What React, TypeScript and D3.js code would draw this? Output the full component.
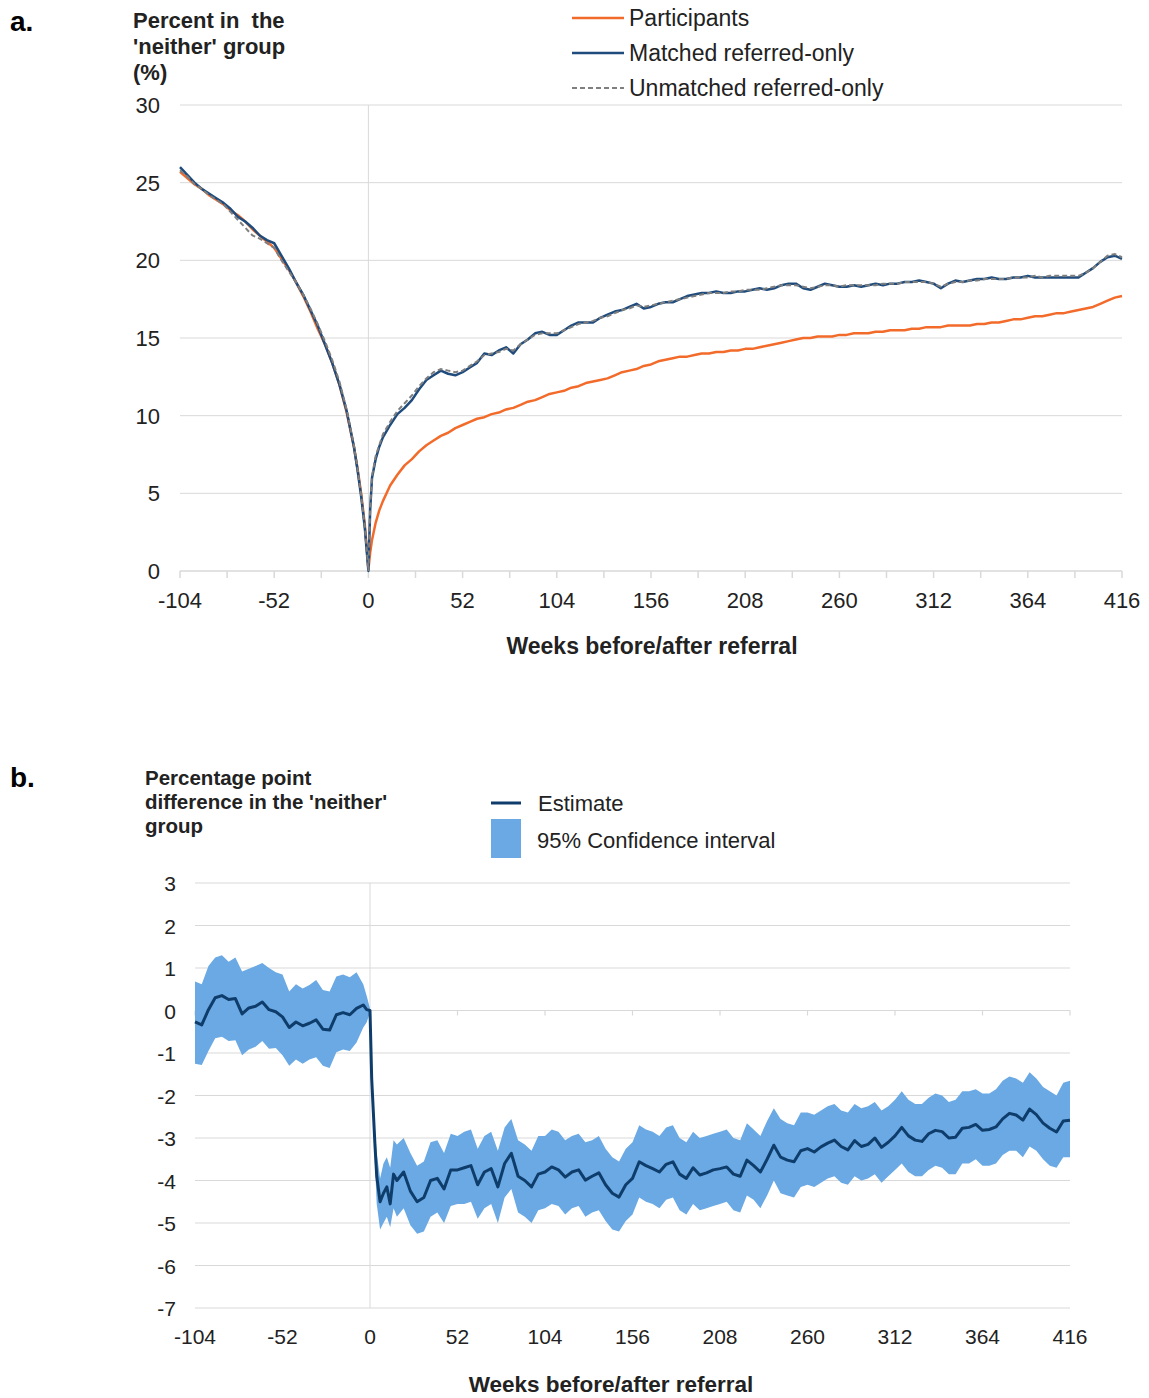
import React, { useEffect } from "react";
import * as d3 from "d3";

// panel a: percent in the 'neither' group, weeks before/after referral
const weeksA = [
  -104, -100, -96, -92, -88, -84, -80, -76, -72, -68,
  -64, -60, -56, -52, -48, -44, -40, -36, -32, -28,
  -24, -20, -16, -12, -8, -6, -4, -2, -1, 0,
  1, 2, 4, 6, 8, 12, 16, 20, 24, 28,
  32, 36, 40, 44, 48, 52, 56, 60, 64, 68,
  72, 76, 80, 84, 88, 92, 96, 100, 104, 108,
  112, 116, 120, 124, 128, 132, 136, 140, 144, 148,
  152, 156, 160, 164, 168, 172, 176, 180, 184, 188,
  192, 196, 200, 204, 208, 212, 216, 220, 224, 228,
  232, 236, 240, 244, 248, 252, 256, 260, 264, 268,
  272, 276, 280, 284, 288, 292, 296, 300, 304, 308,
  312, 316, 320, 324, 328, 332, 336, 340, 344, 348,
  352, 356, 360, 364, 368, 372, 376, 380, 384, 388,
  392, 396, 400, 404, 408, 412, 416,
];

const participants = [
  25.7, 25.3, 24.9, 24.6, 24.2, 23.9, 23.6, 23.2, 22.9, 22.5,
  22.0, 21.6, 21.2, 20.8, 20.1, 19.4, 18.6, 17.7, 16.7, 15.6,
  14.6, 13.4, 12.0, 10.2, 8.0, 6.6, 5.0, 3.0, 1.6, 0.1,
  1.2, 2.0, 3.1, 3.9, 4.5, 5.5, 6.2, 6.8, 7.2, 7.7,
  8.1, 8.4, 8.7, 8.9, 9.2, 9.4, 9.6, 9.8, 9.9, 10.1,
  10.2, 10.4, 10.5, 10.7, 10.9, 11.0, 11.2, 11.4, 11.5, 11.6,
  11.8, 11.9, 12.1, 12.2, 12.3, 12.4, 12.6, 12.8, 12.9, 13.0,
  13.2, 13.3, 13.5, 13.6, 13.7, 13.8, 13.8, 13.9, 14.0, 14.0,
  14.1, 14.1, 14.2, 14.2, 14.3, 14.3, 14.4, 14.5, 14.6, 14.7,
  14.8, 14.9, 15.0, 15.0, 15.1, 15.1, 15.1, 15.2, 15.2, 15.3,
  15.3, 15.3, 15.4, 15.4, 15.5, 15.5, 15.5, 15.6, 15.6, 15.7,
  15.7, 15.7, 15.8, 15.8, 15.8, 15.8, 15.9, 15.9, 16.0, 16.0,
  16.1, 16.2, 16.2, 16.3, 16.4, 16.4, 16.5, 16.6, 16.6, 16.7,
  16.8, 16.9, 17.0, 17.2, 17.4, 17.6, 17.7,
];

const matchedReferred = [
  26.0, 25.5, 25.0, 24.6, 24.3, 24.0, 23.7, 23.3, 22.8, 22.5,
  22.1, 21.6, 21.3, 21.1, 20.3, 19.5, 18.6, 17.8, 16.8, 15.8,
  14.6, 13.4, 12.0, 10.3, 8.0, 6.5, 4.8, 2.8, 1.4, 0.0,
  4.0, 6.0, 7.2, 8.0, 8.6, 9.4, 10.1, 10.5, 11.0, 11.7,
  12.3, 12.6, 12.9, 12.7, 12.6, 12.8, 13.1, 13.4, 14.0, 13.9,
  14.2, 14.4, 14.0, 14.6, 14.9, 15.3, 15.4, 15.2, 15.2, 15.5,
  15.8, 16.0, 16.0, 16.0, 16.3, 16.5, 16.7, 16.8, 17.0, 17.2,
  16.9, 17.0, 17.2, 17.3, 17.3, 17.5, 17.7, 17.8, 17.9, 17.9,
  18.0, 17.9, 17.9, 18.0, 18.0, 18.1, 18.2, 18.1, 18.2, 18.4,
  18.5, 18.5, 18.2, 18.1, 18.3, 18.5, 18.4, 18.3, 18.3, 18.4,
  18.3, 18.4, 18.5, 18.4, 18.5, 18.5, 18.6, 18.6, 18.7, 18.6,
  18.5, 18.2, 18.5, 18.7, 18.6, 18.7, 18.8, 18.8, 18.9, 18.8,
  18.8, 18.9, 18.9, 19.0, 18.9, 18.9, 18.9, 18.9, 18.9, 18.9,
  18.9, 19.2, 19.5, 19.9, 20.2, 20.3, 20.1,
];

const unmatchedReferred = [
  25.8, 25.4, 24.9, 24.6, 24.2, 23.9, 23.6, 23.1, 22.6, 22.1,
  21.6, 21.4, 21.1, 20.8, 20.0, 19.3, 18.6, 17.8, 16.9, 15.9,
  14.8, 13.6, 12.2, 10.4, 8.1, 6.6, 4.9, 2.9, 1.5, 0.0,
  4.1, 6.1, 7.4, 8.1, 8.8, 9.6, 10.3, 10.8, 11.3, 11.9,
  12.4, 12.8, 13.0, 12.9, 12.8, 12.9, 13.2, 13.5, 13.9, 14.0,
  14.1, 14.3, 14.2, 14.6, 14.9, 15.2, 15.3, 15.3, 15.3, 15.5,
  15.7, 15.9, 16.0, 16.1, 16.3, 16.4, 16.6, 16.8, 16.9, 17.1,
  17.0, 17.1, 17.2, 17.3, 17.4, 17.5, 17.6, 17.7, 17.8, 17.9,
  17.9, 17.9, 18.0, 18.0, 18.1, 18.1, 18.1, 18.2, 18.3, 18.4,
  18.4, 18.4, 18.3, 18.2, 18.3, 18.4, 18.4, 18.3, 18.4, 18.4,
  18.4, 18.4, 18.4, 18.5, 18.5, 18.5, 18.6, 18.6, 18.6, 18.6,
  18.5, 18.3, 18.5, 18.6, 18.6, 18.7, 18.7, 18.8, 18.8, 18.8,
  18.8, 18.9, 18.9, 18.9, 19.0, 18.9, 19.0, 19.0, 19.0, 19.0,
  19.0, 19.2, 19.5, 19.9, 20.3, 20.4, 20.2,
];

// panel b: percentage point difference, estimate and 95% CI
const weeksB = [
  -104, -100, -96, -92, -88, -84, -80, -76, -72, -68,
  -64, -60, -56, -52, -48, -44, -40, -36, -32, -28,
  -24, -20, -16, -12, -8, -4, -2, 0, 1, 2,
  3, 4, 6, 8, 10, 12, 14, 16, 20, 24,
  28, 32, 36, 40, 44, 48, 52, 56, 60, 64,
  68, 72, 76, 80, 84, 88, 92, 96, 100, 104,
  108, 112, 116, 120, 124, 128, 132, 136, 140, 144,
  148, 152, 156, 160, 164, 168, 172, 176, 180, 184,
  188, 192, 196, 200, 204, 208, 212, 216, 220, 224,
  228, 232, 236, 240, 244, 248, 252, 256, 260, 264,
  268, 272, 276, 280, 284, 288, 292, 296, 300, 304,
  308, 312, 316, 320, 324, 328, 332, 336, 340, 344,
  348, 352, 356, 360, 364, 368, 372, 376, 380, 384,
  388, 392, 396, 400, 404, 408, 412, 416,
];

const estimate = [
  -0.27, -0.34, 0.02, 0.30, 0.35, 0.26, 0.28, -0.08, 0.06, 0.10,
  0.20, 0.02, -0.03, -0.15, -0.40, -0.27, -0.36, -0.30, -0.22, -0.44,
  -0.46, -0.10, -0.05, -0.10, 0.05, 0.13, 0.02, 0.0, -1.6, -2.4,
  -3.2, -3.9, -4.5, -4.3, -4.15, -4.55, -3.85, -4.0, -3.8, -4.25,
  -4.5, -4.4, -4.0, -3.95, -4.2, -3.75, -3.75, -3.7, -3.65, -4.1,
  -3.8, -3.72, -4.15, -3.6, -3.36, -3.9, -4.0, -4.15, -3.85, -3.8,
  -3.68, -3.75, -3.92, -3.8, -3.75, -3.99, -3.9, -3.82, -4.1, -4.3,
  -4.39, -4.1, -3.95, -3.56, -3.65, -3.72, -3.8, -3.62, -3.56, -3.85,
  -3.95, -3.7, -3.87, -3.82, -3.75, -3.72, -3.68, -3.85, -3.9, -3.52,
  -3.65, -3.8, -3.5, -3.17, -3.45, -3.52, -3.56, -3.3, -3.25, -3.33,
  -3.21, -3.12, -3.05, -3.2, -3.28, -3.06, -3.2, -3.15, -3.0, -3.22,
  -3.1, -2.95, -2.75, -2.95, -3.05, -3.08, -2.9, -2.82, -2.85, -3.0,
  -2.98, -2.77, -2.75, -2.68, -2.82, -2.8, -2.74, -2.55, -2.42, -2.46,
  -2.58, -2.32, -2.45, -2.65, -2.77, -2.86, -2.6, -2.58,
];

const ciUpper = [
  0.68, 0.62, 1.05, 1.25, 1.30, 1.15, 1.25, 0.92, 0.98, 1.05,
  1.12, 1.00, 0.90, 0.85, 0.45, 0.62, 0.52, 0.60, 0.72, 0.48,
  0.45, 0.80, 0.85, 0.78, 0.90, 0.62, 0.35, 0.05, -1.35, -2.05,
  -2.8, -3.35, -3.95, -3.6, -3.45, -3.70, -3.05, -3.15, -3.0, -3.35,
  -3.65, -3.55, -3.10, -3.05, -3.35, -2.90, -2.95, -2.85, -2.80, -3.25,
  -2.95, -2.85, -3.30, -2.75, -2.55, -3.05, -3.15, -3.30, -2.95, -2.95,
  -2.80, -2.85, -3.05, -2.95, -2.90, -3.10, -3.05, -2.95, -3.25, -3.45,
  -3.55, -3.25, -3.10, -2.70, -2.80, -2.85, -2.95, -2.75, -2.70, -3.00,
  -3.10, -2.85, -3.00, -2.95, -2.90, -2.85, -2.80, -3.00, -3.05, -2.65,
  -2.80, -2.95, -2.60, -2.30, -2.55, -2.65, -2.70, -2.40, -2.40, -2.45,
  -2.35, -2.25, -2.20, -2.35, -2.40, -2.20, -2.30, -2.25, -2.15, -2.35,
  -2.25, -2.10, -1.90, -2.10, -2.20, -2.20, -2.05, -1.95, -2.00, -2.15,
  -2.10, -1.90, -1.90, -1.85, -1.95, -1.95, -1.85, -1.65, -1.55, -1.60,
  -1.70, -1.45, -1.60, -1.80, -1.90, -2.00, -1.70, -1.65,
];

const ciLower = [
  -1.25, -1.28, -0.95, -0.65, -0.62, -0.72, -0.70, -1.05, -0.92, -0.85,
  -0.72, -0.90, -0.88, -1.05, -1.30, -1.15, -1.25, -1.15, -1.10, -1.30,
  -1.35, -0.98, -0.92, -0.95, -0.75, -0.40, -0.28, -0.05, -1.85, -2.80,
  -3.65, -4.55, -5.15, -5.0, -4.85, -5.10, -4.65, -4.85, -4.65, -5.05,
  -5.25, -5.20, -4.85, -4.75, -5.00, -4.60, -4.55, -4.55, -4.50, -4.90,
  -4.65, -4.55, -5.00, -4.40, -4.20, -4.75, -4.85, -5.00, -4.70, -4.65,
  -4.55, -4.60, -4.80, -4.65, -4.60, -4.85, -4.75, -4.70, -4.95, -5.15,
  -5.20, -4.95, -4.80, -4.40, -4.50, -4.55, -4.65, -4.45, -4.40, -4.70,
  -4.80, -4.55, -4.70, -4.65, -4.60, -4.55, -4.50, -4.70, -4.75, -4.35,
  -4.45, -4.65, -4.35, -4.00, -4.30, -4.35, -4.40, -4.15, -4.10, -4.15,
  -4.05, -3.95, -3.90, -4.05, -4.10, -3.90, -4.00, -3.95, -3.85, -4.05,
  -3.90, -3.75, -3.60, -3.80, -3.90, -3.90, -3.75, -3.65, -3.70, -3.85,
  -3.85, -3.60, -3.60, -3.50, -3.65, -3.65, -3.60, -3.40, -3.30, -3.30,
  -3.45, -3.20, -3.30, -3.50, -3.65, -3.70, -3.45, -3.45,
];

const xTickLabels = [-104, -52, 0, 52, 104, 156, 208, 260, 312, 364, 416];
const yTicksA = [0, 5, 10, 15, 20, 25, 30];
const yTicksB = [3, 2, 1, 0, -1, -2, -3, -4, -5, -6, -7];

const FONT = "'Liberation Sans', Arial, Helvetica, sans-serif";
const GRID = "#d9d9d9";
const ORANGE = "#f26b2b";
const NAVY = "#1f4c7c";
const BAND = "#6aa9e3";
const EST = "#0e3d6c";

const PanelA = () => {
  const x = d3.scaleLinear().domain([-104, 416]).range([180, 1122]);
  const y = d3.scaleLinear().domain([0, 30]).range([571, 105]);

  const line = (vals: number[]) =>
    d3
      .line<number>()
      .x((_, i) => x(weeksA[i]))
      .y((d) => y(d))(vals) as string;

  const minorTicks = d3.range(-104, 417, 26);

  const legend = [
    { label: "Participants", color: ORANGE, dash: null, width: 2.5 },
    { label: "Matched referred-only", color: NAVY, dash: null, width: 2.5 },
    { label: "Unmatched referred-only", color: "#7f7f7f", dash: "5,3", width: 2 },
  ];

  return (
    <g fontFamily={FONT}>
      <text x={10} y={31} fontSize={28} fontWeight="bold">a.</text>
      <text fontSize={22} fontWeight="bold" fill="#222" style={{ whiteSpace: "pre" }}>
        <tspan x={133} y={28}>{"Percent in  the"}</tspan>
        <tspan x={133} y={54}>'neither' group</tspan>
        <tspan x={133} y={80}>(%)</tspan>
      </text>

      {/* gridlines */}
      {yTicksA.filter((t) => t > 0).map((t) => (
        <line key={t} x1={180} x2={1122} y1={y(t)} y2={y(t)} stroke={GRID} strokeWidth={1} />
      ))}
      <line x1={x(0)} x2={x(0)} y1={y(30)} y2={y(0)} stroke={GRID} strokeWidth={1} />
      <line x1={180} x2={1122} y1={y(0)} y2={y(0)} stroke={GRID} strokeWidth={1.5} />
      {minorTicks.map((t) => (
        <line key={t} x1={x(t)} x2={x(t)} y1={y(0)} y2={y(0) + 7} stroke={GRID} strokeWidth={1.5} />
      ))}

      {yTicksA.map((t) => (
        <text key={t} x={160} y={y(t) + 8} fontSize={22} textAnchor="end" fill="#222">{t}</text>
      ))}
      {xTickLabels.map((t) => (
        <text key={t} x={x(t)} y={608} fontSize={22} textAnchor="middle" fill="#222">{t}</text>
      ))}
      <text x={652} y={654} fontSize={23} fontWeight="bold" textAnchor="middle" fill="#222">
        Weeks before/after referral
      </text>

      {/* series */}
      <path d={line(participants)} fill="none" stroke={ORANGE} strokeWidth={2.5} strokeLinejoin="round" />
      <path d={line(matchedReferred)} fill="none" stroke={NAVY} strokeWidth={2.5} strokeLinejoin="round" />
      <path d={line(unmatchedReferred)} fill="none" stroke="#7f7f7f" strokeWidth={2} strokeDasharray="5,3" />

      {/* legend */}
      {legend.map((d, i) => (
        <g key={d.label} transform={`translate(0, ${18 + i * 35})`}>
          <line x1={572} x2={624} y1={0} y2={0} stroke={d.color} strokeWidth={d.width} strokeDasharray={d.dash ?? undefined} />
          <text x={629} y={8} fontSize={23} fill="#222">{d.label}</text>
        </g>
      ))}
    </g>
  );
};

const PanelB = () => {
  const x = d3.scaleLinear().domain([-104, 416]).range([195, 1070]);
  const y = d3.scaleLinear().domain([-7, 3]).range([1308, 883]);

  const area = d3
    .area<number>()
    .x((_, i) => x(weeksB[i]))
    .y0((_, i) => y(ciLower[i]))
    .y1((d) => y(d));

  const line = d3
    .line<number>()
    .x((_, i) => x(weeksB[i]))
    .y((d) => y(d));

  const majorTicks = d3.range(-104, 417, 52);

  return (
    <g fontFamily={FONT}>
      <text x={10} y={787} fontSize={28} fontWeight="bold">b.</text>
      <text fontSize={20.5} fontWeight="bold" fill="#222">
        <tspan x={145} y={785}>Percentage point</tspan>
        <tspan x={145} y={809}>difference in the 'neither'</tspan>
        <tspan x={145} y={833}>group</tspan>
      </text>

      {/* legend */}
      <line x1={491} x2={521} y1={803} y2={803} stroke={EST} strokeWidth={3} />
      <text x={538} y={811} fontSize={22} fill="#222">Estimate</text>
      <rect x={491} y={819} width={30} height={39} fill={BAND} />
      <text x={537} y={848} fontSize={22} fill="#222">95% Confidence interval</text>

      {/* gridlines */}
      {yTicksB.map((t) => (
        <line key={t} x1={195} x2={1070} y1={y(t)} y2={y(t)} stroke={GRID} strokeWidth={1.2} />
      ))}
      <line x1={x(0)} x2={x(0)} y1={y(3)} y2={y(-7)} stroke={GRID} strokeWidth={1} />
      {majorTicks.map((t) => (
        <line key={t} x1={x(t)} x2={x(t)} y1={y(0)} y2={y(0) + 5} stroke={GRID} strokeWidth={1.2} />
      ))}

      {yTicksB.map((t) => (
        <text key={t} x={176} y={y(t) + 8} fontSize={21} textAnchor="end" fill="#222">{t}</text>
      ))}
      {xTickLabels.map((t) => (
        <text key={t} x={x(t)} y={1344} fontSize={21} textAnchor="middle" fill="#222">{t}</text>
      ))}
      <text x={611} y={1392} fontSize={22.5} fontWeight="bold" textAnchor="middle" fill="#222">
        Weeks before/after referral
      </text>

      <path d={area(ciUpper) as string} fill={BAND} />
      <path d={line(estimate) as string} fill="none" stroke={EST} strokeWidth={3} strokeLinejoin="round" />
    </g>
  );
};

export default function App() {
  useEffect(() => {
    document.body.style.margin = "0";
  }, []);

  return (
    <svg width={1149} height={1398} style={{ display: "block", background: "#fff" }}>
      <PanelA />
      <PanelB />
    </svg>
  );
}
